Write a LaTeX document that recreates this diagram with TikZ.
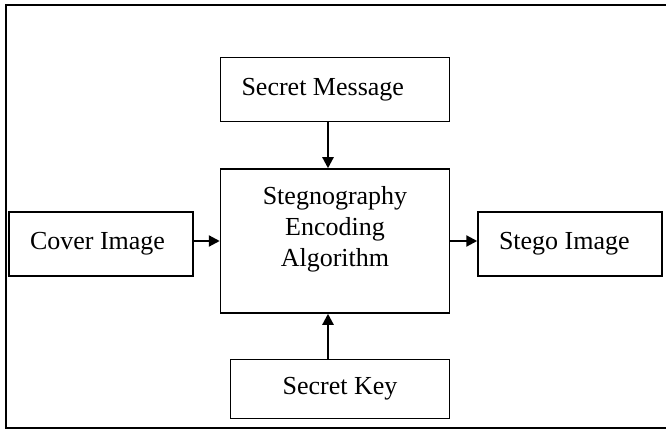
\documentclass[tikz,border=0pt]{standalone}
\usepackage{fontspec}
\setmainfont{Liberation Serif}
\usetikzlibrary{arrows.meta}
\usetikzlibrary{positioning}

\begin{document}
\begin{tikzpicture}[x=1pt,y=-1pt]
  \tikzstyle{block}=[rectangle, draw=black, line width=1.5pt, minimum width=184pt, minimum height=64pt, font=\fontsize{26}{31}\selectfont]
  \tikzstyle{leftpad}=[align=flush left, inner xsep=21pt]
  \tikzstyle{connect}=[-{Triangle[length=11pt,width=11pt]}, line width=2.2pt]
  \useasboundingbox (0,0) rectangle (666,430);
  \draw[line width=1.8pt] (666,5) -- (6,5) -- (6,428) -- (666,428);
    \node[block, minimum width=229pt, minimum height=144pt, align=center, text depth=30pt] (enc) at (335,241) {Stegnography\\Encoding\\Algorithm};
    \node[block, leftpad, text width=187pt] (msg) [above=46pt of enc] {Secret Message};
    \node[block, leftpad, text width=142pt] (cover) [left=26pt of enc, yshift=-3pt] {Cover Image};
    \node[block, leftpad, text width=142pt] (stego) [right=27pt of enc, yshift=-3pt] {Stego Image};
    \node[block, minimum width=219pt, minimum height=59pt] (key) [below=45pt of enc, xshift=5pt] {Secret Key};
    \path ([xshift=-7pt]msg.south) edge [connect] ([xshift=-7pt]enc.north)
          ([xshift=-12pt]key.north) edge [connect] ([xshift=-7pt]enc.south)
          ([yshift=3pt]cover.east) edge [connect] (enc.west)
          (enc.east) edge [connect] ([yshift=3pt]stego.west);
\end{tikzpicture}
\end{document}
